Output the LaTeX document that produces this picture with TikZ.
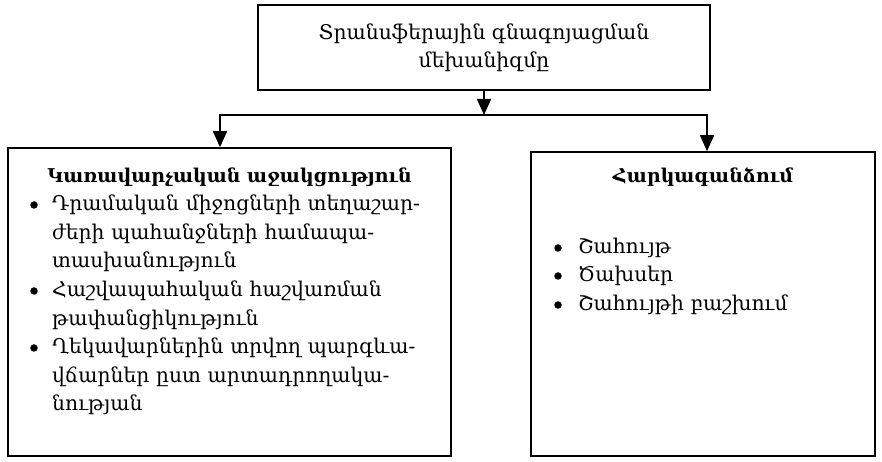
\documentclass[tikz,border=0pt]{standalone}
\usepackage{fontspec}
\setmainfont{DejaVu Serif}
\usetikzlibrary{arrows.meta}
\begin{document}
\begin{tikzpicture}[x=1pt,y=1pt,
  boxstyle/.style={draw=black,line width=1.6pt,inner sep=0pt},
  conn/.style={line width=1.6pt,-{Triangle[width=14pt,length=16pt]}},
  txt/.style={inner sep=0pt,font=\fontsize{20.3}{28.5}\selectfont},
  btitle/.style={txt,font=\fontsize{19}{28.5}\selectfont\bfseries},
  item/.style={txt,anchor=base west,text width=395pt,align=left},
  bul/.style={circle,fill=black,inner sep=0pt,minimum size=7.5pt}]
\useasboundingbox (0,0) rectangle (882,462);
% boxes
\node[boxstyle,minimum width=452pt,minimum height=85pt] (top) at (484,414.5) {};
\node[boxstyle,minimum width=443pt,minimum height=308pt] (left) at (229.5,160) {};
\node[boxstyle,minimum width=344pt,minimum height=304pt] (right) at (703,158) {};
% top text
\node[txt,anchor=base] (tt1) at (484,422) {Տրանսֆերային գնագոյացման};
\node[txt,anchor=base] (tt2) at (484,394) {մեխանիզմը};
% left box
\node[btitle,anchor=base] (lt) at (229.5,279) {Կառավարչական աջակցություն};
\node[bul] (lb1) at (34,257) {};
\node[item] (li1) at (52,251) {Դրամական միջոցների տեղաշար-\\ժերի պահանջների համապա-\\տասխանություն};
\node[bul] (lb2) at (34,171) {};
\node[item] (li2) at (52,165) {Հաշվապահական հաշվառման\\թափանցիկություն};
\node[bul] (lb3) at (34,114) {};
\node[item] (li3) at (52,108) {Ղեկավարներին տրվող պարգևա-\\վճարներ ըստ արտադրողակա-\\նության};
% right box
\node[btitle,anchor=base] (rt) at (703,279) {Հարկագանձում};
\node[bul] (rb1) at (558,214) {};
\node[item,text width=290pt] (ri1) at (578,208) {Շահույթ};
\node[bul] (rb2) at (558,186) {};
\node[item,text width=290pt] (ri2) at (578,180) {Ծախսեր};
\node[bul] (rb3) at (558,157) {};
\node[item,text width=290pt] (ri3) at (578,151) {Շահույթի բաշխում};
% connectors
\coordinate (split) at (484,347);
\coordinate (lsplit) at (220,347);
\coordinate (rsplit) at (707,347);
\draw[conn] (top.south) -- (split);
\draw[line width=1.6pt,line cap=rect] (lsplit) -- (rsplit);
\draw[conn] (lsplit) -- (lsplit |- left.north);
\draw[conn] (rsplit) -- (rsplit |- right.north);
\end{tikzpicture}
\end{document}
